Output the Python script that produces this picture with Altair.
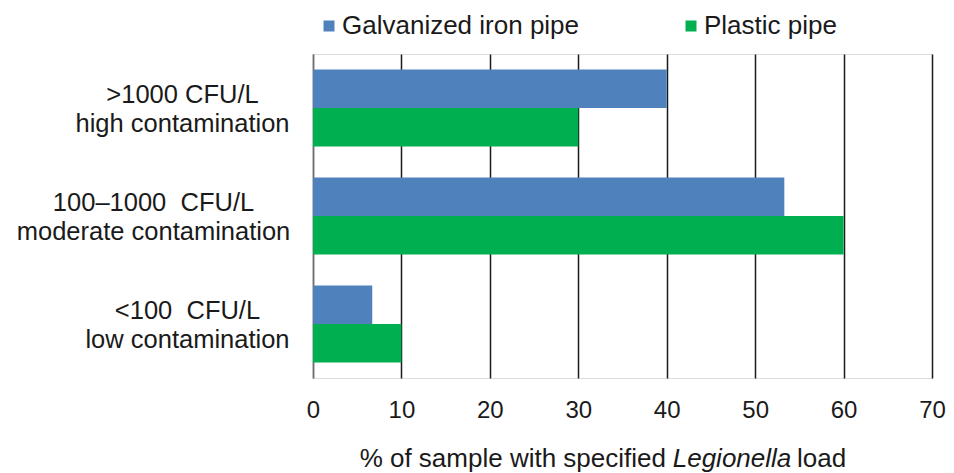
import altair as alt
import pandas as pd

NB = "\u00a0"
categories = [
    ">1000 CFU/L|high contamination",
    "100–1000 " + NB + "CFU/L|moderate contamination",
    "<100 " + NB + "CFU/L|low contamination",
]
series = ["Galvanized iron pipe", "Plastic pipe"]
galvanized = [40, 53.3, 6.7]
plastic = [30, 60, 10]
colors = ["#4F81BD", "#00B050"]
x_ticks = [0, 10, 20, 30, 40, 50, 60, 70]

rows = []
for c, g, p in zip(categories, galvanized, plastic):
    rows.append({"category": c, "series": series[0], "value": g})
    rows.append({"category": c, "series": series[1], "value": p})
df = pd.DataFrame(rows)

FONT = "Liberation Sans"
TXT = "#1a1a1a"

label_pad = {
    "condition": [
        {"test": "indexof(datum.value, 'high') >= 0", "value": 131},
        {"test": "indexof(datum.value, 'low') >= 0", "value": 126},
    ],
    "value": 160,
}

bars = alt.Chart(df).mark_bar().encode(
    x=alt.X(
        "value:Q",
        scale=alt.Scale(domain=[0, 70], nice=False),
        axis=alt.Axis(
            values=x_ticks, title=None, ticks=False, domain=False, grid=True,
            gridColor={"condition": {"test": "datum.value === 0", "value": "#6f6f6f"}, "value": "#1a1a1a"},
            gridWidth=1.5, labelFontSize=24, labelPadding=20, labelColor=TXT,
            labelFont=FONT, labelFlush=False,
        ),
    ),
    y=alt.Y(
        "category:N", sort=categories,
        scale=alt.Scale(paddingInner=0.287, paddingOuter=0.1435),
        axis=alt.Axis(
            title=None, ticks=False, labelExpr="split(datum.label, '|')",
            labelFontSize=25.5, labelLineHeight=29, labelPadding=label_pad,
            labelOffset=-13,
            labelAlign="center", labelBaseline="middle", domainColor="#6f6f6f",
            domainWidth=1.5, labelColor=TXT, labelLimit=0, labelFont=FONT,
        ),
    ),
    yOffset=alt.YOffset("series:N", sort=series, scale=alt.Scale(paddingInner=0, paddingOuter=0)),
    color=alt.Color(
        "series:N", sort=series,
        scale=alt.Scale(domain=series, range=colors),
        legend=alt.Legend(
            orient="none", legendX=3, legendY=-41, direction="horizontal",
            symbolType="square", symbolSize=121, symbolStrokeWidth=0,
            labelFontSize=26, labelOffset=0, columnPadding=98, title=None,
            labelLimit=0, labelColor=TXT, labelFont=FONT, padding=0,
        ),
    ),
)

t1 = alt.Chart(pd.DataFrame({"t": ["% of sample with specified"]})).mark_text(
    align="right", baseline="middle", fontSize=26, font=FONT, color=TXT
).encode(x=alt.value(353), y=alt.value(405), text="t:N")
t2 = alt.Chart(pd.DataFrame({"t": ["Legionella"]})).mark_text(
    align="center", baseline="middle", fontSize=26, font=FONT, fontStyle="italic", color=TXT
).encode(x=alt.value(419), y=alt.value(405), text="t:N")
t3 = alt.Chart(pd.DataFrame({"t": ["load"]})).mark_text(
    align="left", baseline="middle", fontSize=26, font=FONT, color=TXT
).encode(x=alt.value(484), y=alt.value(405), text="t:N")

chart = alt.layer(bars, t1, t2, t3).properties(
    width=619, height=324,
    autosize=alt.AutoSizeParams(type="none"),
    padding={"left": 305, "top": 46, "right": 14, "bottom": 110},
).configure_view(stroke=None).configure(background="white")

chart.save("out.html", embed_options={"renderer": "svg", "actions": False})
